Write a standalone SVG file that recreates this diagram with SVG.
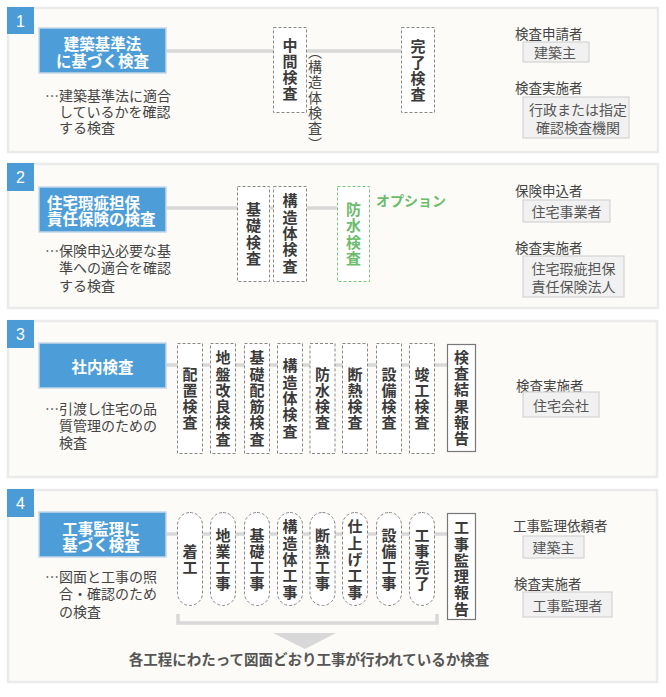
<svg xmlns="http://www.w3.org/2000/svg" width="666" height="697" viewBox="0 0 666 697">
<style>
text{font-family:"Noto Sans CJK JP","Noto Sans",sans-serif;}
.panel{fill:#fcfbf7;stroke:#ebebeb;stroke-width:2.5;}
.badge{fill:#4a9bd6;}
.badgeT{fill:#fff;font-size:16px;text-anchor:middle;dominant-baseline:central;font-family:"Liberation Sans",sans-serif;}
.title{fill:#4d9dd8;stroke:#c3d7ea;stroke-width:1.5;}
.titleT{fill:#fff;font-size:15.5px;font-weight:bold;dominant-baseline:central;}
.desc{fill:#444;font-size:14px;dominant-baseline:central;}
.lbl{fill:#444;font-size:13.5px;dominant-baseline:central;}
.box{fill:#f1f1f1;stroke:#d4d4d4;stroke-width:1.2;}
.boxT{fill:#555;font-size:14px;text-anchor:middle;dominant-baseline:central;}
.node{fill:#fff;stroke:#888;stroke-width:1;stroke-dasharray:3 2;}
.rep{fill:#fff;stroke:#777;stroke-width:1.2;}
.v{writing-mode:vertical-rl;text-anchor:middle;letter-spacing:1.3px;}
.nodeT{fill:#3a3a3a;font-size:15px;font-weight:bold;}
.opt{fill:#fff;stroke:#7cc47c;stroke-width:1;stroke-dasharray:3 2;}
.optT{fill:#6dbb6d;font-size:15px;font-weight:bold;}
.line{stroke:#d8d8d8;stroke-width:3.5;fill:none;}
</style>

<!-- panels -->
<g id="panel1"><rect class="panel" x="8" y="8" width="650" height="144"/><rect class="badge" x="7" y="7" width="27" height="27"/><text class="badgeT" x="20.5" y="21">1</text></g>
<g id="panel2"><rect class="panel" x="8" y="164" width="650" height="144"/><rect class="badge" x="7" y="163" width="27" height="28"/><text class="badgeT" x="20.5" y="177">2</text></g>
<g id="panel3"><rect class="panel" x="8" y="321" width="649" height="156"/><rect class="badge" x="7" y="320" width="27" height="28"/><text class="badgeT" x="20.5" y="334">3</text></g>
<g id="panel4"><rect class="panel" x="8" y="490" width="649" height="192"/><rect class="badge" x="7" y="489" width="27" height="28"/><text class="badgeT" x="20.5" y="503">4</text></g>

<!-- connectors -->
<g id="connectors">
<line class="line" x1="166" y1="51" x2="401" y2="51"/>
<line class="line" x1="166" y1="208" x2="337" y2="208"/>
<line class="line" x1="166" y1="365" x2="447" y2="365"/>
<line class="line" x1="166" y1="534" x2="447" y2="534"/>
<path class="line" d="M178,614 V623 H437 V614"/>
<polygon points="273,633 336,633 305,649" fill="#d8d8d8"/>
</g>

<!-- section 1 -->
<g id="s1-title"><rect class="title" x="39" y="28" width="127" height="45"/>
<text class="titleT" x="102.5" y="43" text-anchor="middle">建築基準法</text>
<text class="titleT" x="102.5" y="60" text-anchor="middle">に基づく検査</text></g>
<g id="s1-desc"><text class="desc" x="45" y="95">…</text><text class="desc" x="59" y="95">建築基準法に適合</text><text class="desc" x="59" y="111">しているかを確認</text><text class="desc" x="59" y="127">する検査</text></g>
<g id="s1-chukan"><rect class="node" x="273.5" y="27.5" width="33" height="85"/>
<text class="nodeT v" x="290" y="70">中間検査</text></g>
<g id="s1-note"><text class="v" x="315" y="98" fill="#444" font-size="14">（構造体検査）</text></g>
<g id="s1-kanryo"><rect class="node" x="401.5" y="27.5" width="33" height="85"/>
<text class="nodeT v" x="418" y="71">完了検査</text></g>
<g id="s1-right"><text class="lbl" x="515" y="33">検査申請者</text>
<rect class="box" x="523" y="42" width="66" height="20"/><text class="boxT" x="555" y="52">建築主</text>
<text class="lbl" x="515" y="87">検査実施者</text>
<rect class="box" x="523" y="97" width="106" height="41"/><text class="boxT" x="578" y="109">行政または指定</text><text class="boxT" x="578" y="127">確認検査機関</text></g>

<!-- section 2 -->
<g id="s2-title"><rect class="title" x="39" y="187" width="127" height="45"/>
<text class="titleT" x="47" y="202">住宅瑕疵担保</text>
<text class="titleT" x="47" y="218">責任保険の検査</text></g>
<g id="s2-desc"><text class="desc" x="45" y="250">…</text><text class="desc" x="59" y="250">保険申込必要な基</text><text class="desc" x="59" y="267">準への適合を確認</text><text class="desc" x="59" y="285">する検査</text></g>
<g id="s2-kiso"><rect class="node" x="237.5" y="186.5" width="32" height="95"/>
<text class="nodeT v" x="253.5" y="234.5">基礎検査</text></g>
<g id="s2-kozo"><rect class="node" x="273.5" y="186.5" width="33" height="95"/>
<text class="nodeT v" x="290" y="234">構造体検査</text></g>
<g id="s2-bosui"><rect class="opt" x="337.5" y="186.5" width="32" height="95"/>
<text class="optT v" x="353.5" y="234.5">防水検査</text></g>
<g id="s2-option"><text x="376" y="200" fill="#6dbb6d" font-size="14" font-weight="bold" dominant-baseline="central">オプション</text></g>
<g id="s2-right"><text class="lbl" x="515" y="190">保険申込者</text>
<rect class="box" x="523" y="200" width="87" height="22"/><text class="boxT" x="566.5" y="211">住宅事業者</text>
<text class="lbl" x="515" y="247">検査実施者</text>
<rect class="box" x="523" y="256" width="101" height="41"/><text class="boxT" x="573.5" y="268">住宅瑕疵担保</text><text class="boxT" x="573.5" y="286">責任保険法人</text></g>

<!-- section 3 -->
<g id="s3-title"><rect class="title" x="39" y="343" width="127" height="45"/>
<text class="titleT" x="102.5" y="366" text-anchor="middle">社内検査</text></g>
<g id="s3-desc"><text class="desc" x="45" y="408">…</text><text class="desc" x="59" y="408">引渡し住宅の品</text><text class="desc" x="59" y="425">質管理のための</text><text class="desc" x="59" y="442">検査</text></g>
<g id="s3-n1"><rect class="node" x="177.5" y="343.5" width="25" height="110"/><text class="nodeT v" x="190" y="399">配置検査</text></g>
<g id="s3-n2"><rect class="node" x="210.5" y="343.5" width="25" height="110"/><text class="nodeT v" x="223" y="399">地盤改良検査</text></g>
<g id="s3-n3"><rect class="node" x="244.5" y="343.5" width="25" height="110"/><text class="nodeT v" x="257" y="399">基礎配筋検査</text></g>
<g id="s3-n4"><rect class="node" x="277.5" y="343.5" width="25" height="110"/><text class="nodeT v" x="290" y="399">構造体検査</text></g>
<g id="s3-n5"><rect class="node" x="310" y="343.5" width="25" height="110"/><text class="nodeT v" x="322.5" y="399">防水検査</text></g>
<g id="s3-n6"><rect class="node" x="342.5" y="343.5" width="25" height="110"/><text class="nodeT v" x="355" y="399">断熱検査</text></g>
<g id="s3-n7"><rect class="node" x="376.5" y="343.5" width="25" height="110"/><text class="nodeT v" x="389" y="399">設備検査</text></g>
<g id="s3-n8"><rect class="node" x="409.5" y="343.5" width="25" height="110"/><text class="nodeT v" x="422" y="399">竣工検査</text></g>
<g id="s3-report"><rect class="rep" x="447.5" y="344.5" width="28" height="107"/><text class="nodeT v" x="461.5" y="398.5">検査結果報告</text></g>
<g id="s3-right"><text class="lbl" x="516" y="385">検査実施者</text>
<rect class="box" x="523" y="392" width="76" height="25"/><text class="boxT" x="561" y="404.5">住宅会社</text></g>

<!-- section 4 -->
<g id="s4-title"><rect class="title" x="39" y="512" width="127" height="45"/>
<text class="titleT" x="101" y="528" text-anchor="middle">工事監理に</text>
<text class="titleT" x="101" y="544" text-anchor="middle">基づく検査</text></g>
<g id="s4-desc"><text class="desc" x="45" y="576">…</text><text class="desc" x="59" y="576">図面と工事の照</text><text class="desc" x="59" y="593">合・確認のため</text><text class="desc" x="59" y="611">の検査</text></g>
<g id="s4-n1"><rect class="node" x="177.5" y="512.5" width="25" height="93" rx="12.5"/><text class="nodeT v" x="190" y="560">着工</text></g>
<g id="s4-n2"><rect class="node" x="210.5" y="512.5" width="25" height="93" rx="12.5"/><text class="nodeT v" x="223" y="560">地業工事</text></g>
<g id="s4-n3"><rect class="node" x="244.5" y="512.5" width="25" height="93" rx="12.5"/><text class="nodeT v" x="257" y="560">基礎工事</text></g>
<g id="s4-n4"><rect class="node" x="277.5" y="512.5" width="25" height="93" rx="12.5"/><text class="nodeT v" x="290" y="560">構造体工事</text></g>
<g id="s4-n5"><rect class="node" x="310" y="512.5" width="25" height="93" rx="12.5"/><text class="nodeT v" x="322.5" y="560">断熱工事</text></g>
<g id="s4-n6"><rect class="node" x="342.5" y="512.5" width="25" height="93" rx="12.5"/><text class="nodeT v" x="355" y="560">仕上げ工事</text></g>
<g id="s4-n7"><rect class="node" x="376.5" y="512.5" width="25" height="93" rx="12.5"/><text class="nodeT v" x="389" y="560">設備工事</text></g>
<g id="s4-n8"><rect class="node" x="409.5" y="512.5" width="25" height="93" rx="12.5"/><text class="nodeT v" x="422" y="560">工事完了</text></g>
<g id="s4-report"><rect class="rep" x="447.5" y="513.5" width="28" height="106"/><text class="nodeT v" x="461.5" y="569">工事監理報告</text></g>
<g id="s4-bottom"><text x="309" y="658" fill="#555" font-size="14.5" font-weight="bold" text-anchor="middle" dominant-baseline="central">各工程にわたって図面どおり工事が行われているか検査</text></g>
<g id="s4-right"><text class="lbl" x="513" y="525">工事監理依頼者</text>
<rect class="box" x="523" y="536" width="61" height="22"/><text class="boxT" x="553.5" y="547">建築主</text>
<text class="lbl" x="514" y="583">検査実施者</text>
<rect class="box" x="523" y="592" width="89" height="25"/><text class="boxT" x="567.5" y="604.5">工事監理者</text></g>
</svg>
